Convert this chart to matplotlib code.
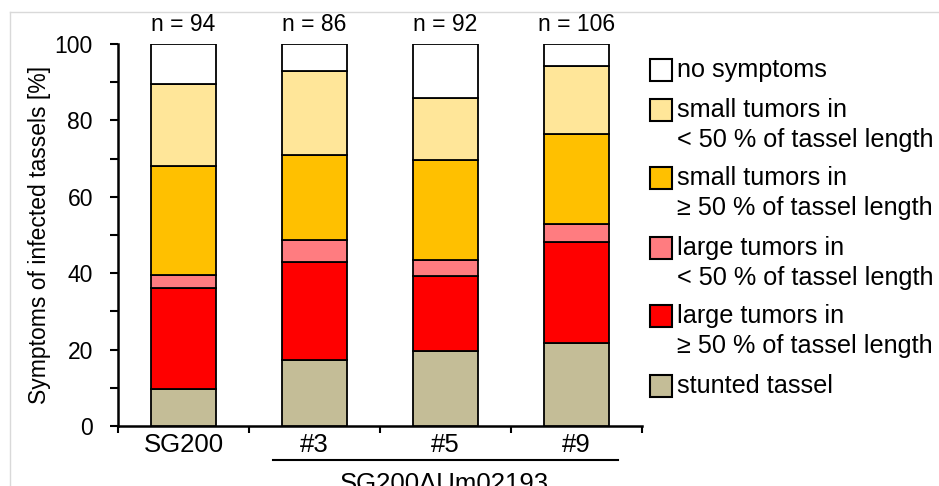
import matplotlib
matplotlib.use("Agg")
import matplotlib.pyplot as plt
from matplotlib.patches import Rectangle
from matplotlib.lines import Line2D

plt.rcParams["font.family"] = ["Liberation Sans", "DejaVu Sans"]

strains = ["SG200", "#3", "#5", "#9"]
n_counts = [94, 86, 92, 106]
group_label = "SG200ΔUm02193"

# percentage of tassels per symptom class, bottom to top of each stack
stunted = [9.6, 17.4, 19.6, 21.7]
large_ge50 = [26.6, 25.6, 19.6, 26.4]
large_lt50 = [3.2, 5.8, 4.3, 4.7]
small_ge50 = [28.7, 22.1, 26.1, 23.6]
small_lt50 = [21.3, 22.1, 16.3, 17.9]
no_symptoms = [10.6, 7.0, 14.1, 5.7]

classes = [
    ("stunted tassel", stunted, "#C4BD97"),
    ("large tumors in\n≥ 50 % of tassel length", large_ge50, "#FF0000"),
    ("large tumors in\n< 50 % of tassel length", large_lt50, "#FF7C80"),
    ("small tumors in\n≥ 50 % of tassel length", small_ge50, "#FFC000"),
    ("small tumors in\n< 50 % of tassel length", small_lt50, "#FFE699"),
    ("no symptoms", no_symptoms, "#FFFFFF"),
]

W, H = 939, 486
fig = plt.figure(figsize=(W / 100, H / 100), dpi=100)
ax = fig.add_axes([118 / W, 1 - 426 / H, (642 - 118) / W, (426 - 44) / H])

x = range(len(strains))
bottom = [0.0] * len(strains)
for name, vals, col in classes:
    ax.bar(x, vals, width=0.5, bottom=bottom, color=col,
           edgecolor="black", linewidth=1.3, zorder=3)
    bottom = [b + v for b, v in zip(bottom, vals)]

ax.set_xlim(-0.5, 3.5)
ax.set_ylim(0, 100)
for s in ("top", "right"):
    ax.spines[s].set_visible(False)
for s in ("left", "bottom"):
    ax.spines[s].set_linewidth(1.8)

ax.set_yticks(range(0, 101, 20))
ax.set_yticks(range(10, 100, 20), minor=True)
ax.tick_params(axis="y", which="both", direction="out", length=6, width=1.5,
               labelsize=16.5, pad=12)

ax.set_xticks(list(x))
ax.set_xticklabels(strains)
ax.set_xticks([-0.5, 0.5, 1.5, 2.5, 3.5], minor=True)
ax.tick_params(axis="x", which="major", length=0, labelsize=18.5, pad=5)
ax.tick_params(axis="x", which="minor", direction="out", length=5, width=1.5)

ax.set_ylabel("Symptoms of infected tassels [%]", fontsize=16.5)
ax.yaxis.set_label_coords(-0.128, 0.5)

for i, n in enumerate(n_counts):
    ax.text(i, 1.05, f"n = {n}", transform=ax.get_xaxis_transform(),
            ha="center", va="center", fontsize=16.5)

# bracket line under the mutant strains
ax.plot([0.68, 3.32], [-0.09, -0.09], transform=ax.get_xaxis_transform(),
        color="black", lw=1.5, clip_on=False)
ax.text(1.99, -0.17, group_label, transform=ax.get_xaxis_transform(),
        ha="center", va="baseline", fontsize=18.5)

# legend drawn by hand, top entry first
leg_rows = [70, 110, 178, 248, 316, 386]
for (name, vals, col), ypx in zip(classes[::-1], leg_rows):
    fig.add_artist(Rectangle((650 / W, 1 - (ypx + 11) / H), 22 / W, 22 / H,
                             transform=fig.transFigure, facecolor=col,
                             edgecolor="black", linewidth=1.5))
    for k, line in enumerate(name.split("\n")):
        fig.text(677 / W, 1 - (ypx + 30 * k) / H, line, ha="left",
                 va="center", fontsize=18.2)

# faint frame of the panel
fig.add_artist(Line2D([10 / W, 10 / W], [0, 1 - 12 / H], color="#d9d9d9", lw=1))
fig.add_artist(Line2D([10 / W, 1], [1 - 12 / H, 1 - 12 / H], color="#d9d9d9", lw=1))

fig.savefig("out.png", dpi=100)
